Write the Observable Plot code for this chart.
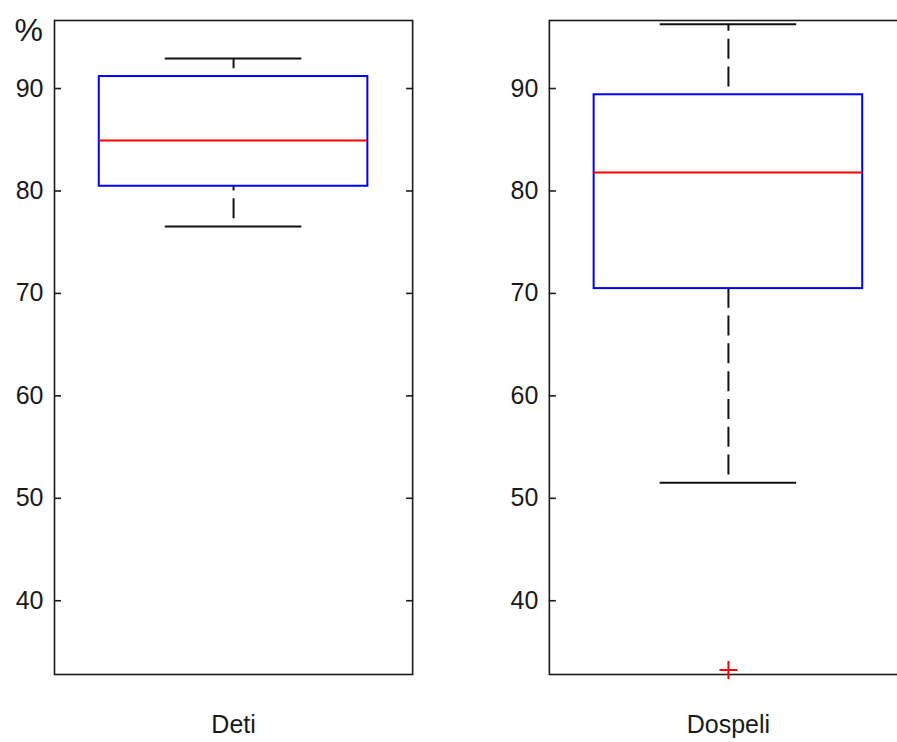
<!DOCTYPE html>
<html>
<head>
<meta charset="utf-8">
<script src="https://cdn.jsdelivr.net/npm/d3@7"></script>
<script src="https://cdn.jsdelivr.net/npm/@observablehq/plot@0.6"></script>
<style>
  html, body { margin: 0; padding: 0; background: #fff; overflow: hidden; }
  #chart { width: 897px; height: 742px; overflow: hidden; }
  #chart svg { max-width: none !important; display: block; }
</style>
</head>
<body>
<div id="chart"></div>
<script>
const groups = ["Deti", "Dospeli"];
const upperWhisker = [92.93, 96.28];
const q3 = [91.17, 89.39];
const median = [84.92, 81.80];
const q1 = [80.46, 70.47];
const lowerWhisker = [76.53, 51.51];
const outlierGroups = ["Dospeli"];
const outlierValues = [33.24];
const yTicks = [40, 50, 60, 70, 80, 90];
const yLabel = "%";

const stats = groups.map((g, i) => ({
  group: g, hi: upperWhisker[i], q3: q3[i], med: median[i], q1: q1[i], lo: lowerWhisker[i]
}));
// whisker segments, each drawn from its lower end upward
const whiskers = stats.flatMap(d => [
  {group: d.group, from: d.lo, to: d.q1},
  {group: d.group, from: d.q3, to: d.hi}
]);
const caps = stats.flatMap(d => [
  {group: d.group, v: d.lo},
  {group: d.group, v: d.hi}
]);
const outliers = outlierGroups.map((g, i) => ({group: g, v: outlierValues[i]}));
const pctLabel = [{group: groups[0], text: yLabel}];

const ink = "#1a1a1a";
const lw = 2;

const chart = Plot.plot({
  width: 907,
  height: 742,
  marginTop: 20,
  marginBottom: 68,
  marginLeft: 54,
  marginRight: 0,
  style: {fontFamily: "'Liberation Sans', Arial, sans-serif", fontSize: "25px", color: ink, background: "#fff", maxWidth: "none"},
  fx: {domain: groups, paddingInner: 0.2763, paddingOuter: 0, round: false},
  x: {type: "band", domain: ["box"], padding: 0.1429, round: false, axis: null},
  y: {domain: [32.8, 96.64], axis: null},
  marks: [
    Plot.frame({stroke: ink, strokeWidth: 1.6}),
    Plot.axisY({anchor: "left", facetAnchor: null, ticks: yTicks, tickSize: -7, tickPadding: 18, label: null, stroke: ink, strokeWidth: 1.6, fill: ink, fontSize: 25}),
    Plot.axisY({anchor: "right", facetAnchor: null, ticks: yTicks, tickSize: -7, tickFormat: () => "", label: null, stroke: ink, strokeWidth: 1.6}),
    Plot.axisFx({anchor: "bottom", tickSize: 0, tickPadding: 41, label: null, fill: ink, fontSize: 25}),
    Plot.ruleX(whiskers, {fx: "group", x: () => "box", y1: "from", y2: "to", stroke: "#111", strokeWidth: lw, strokeDasharray: "20,7.8", strokeDashoffset: 20}),
    Plot.tickY(caps, {fx: "group", x: () => "box", y: "v", stroke: "#111", strokeWidth: lw, inset: 66}),
    Plot.barY(stats, {fx: "group", x: () => "box", y1: "q1", y2: "q3", fill: "none", stroke: "#0000ff", strokeWidth: lw}),
    Plot.tickY(stats, {fx: "group", x: () => "box", y: "med", stroke: "#ff0000", strokeWidth: lw}),
    Plot.dot(outliers, {fx: "group", x: () => "box", y: "v", symbol: "plus", r: 5.85, stroke: "#ff0000", strokeWidth: lw}),
    Plot.text(pctLabel, {fx: "group", text: "text", frameAnchor: "top-left", dx: -40, dy: 20, textAnchor: "start", lineAnchor: "bottom", fontSize: 32, fill: ink})
  ]
});
document.getElementById("chart").appendChild(chart);
</script>
</body>
</html>
